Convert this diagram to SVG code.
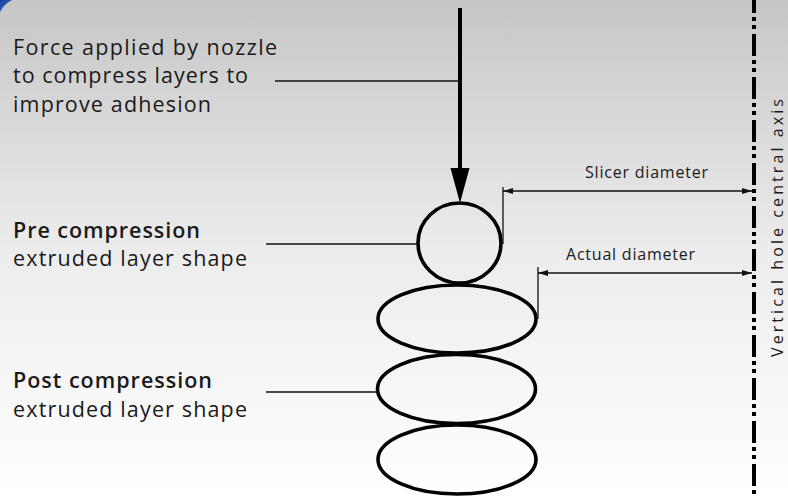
<svg xmlns="http://www.w3.org/2000/svg" width="788" height="497" viewBox="0 0 788 497">
<defs>
<linearGradient id="bg" x1="0" y1="0" x2="0" y2="1">
<stop offset="0" stop-color="#c6c6c6"/>
<stop offset="0.5" stop-color="#ececec"/>
<stop offset="1" stop-color="#ffffff"/>
</linearGradient>
<linearGradient id="blue" x1="0" y1="0" x2="1" y2="1">
<stop offset="0" stop-color="#1a3f9e"/>
<stop offset="1" stop-color="#3a6fd0"/>
</linearGradient>
<marker id="ah" viewBox="0 0 10 6" refX="10" refY="3" markerWidth="10" markerHeight="6" markerUnits="userSpaceOnUse" orient="auto-start-reverse">
<path d="M0,0 L10,3 L0,6 Z" fill="#111"/>
</marker>
</defs>
<style>
.t{font-family:"Open Sans","Liberation Sans",sans-serif;font-size:21.5px;fill:#1a1a1a}
.b{font-weight:600}
.s{font-family:"Open Sans","Liberation Sans",sans-serif;font-size:16px;fill:#1a1a1a}
.shape{fill:none;stroke:#000;stroke-width:3.6}
.lead{fill:none;stroke:#111;stroke-width:1.5}
.dim{fill:none;stroke:#111;stroke-width:1.3}
</style>
<rect x="0" y="0" width="788" height="497" fill="url(#bg)"/>
<path d="M0,0 L12,0 Q4,4 0,12 Z" fill="url(#blue)"/>

<g id="force-label">
<text class="t" x="13" y="55" textLength="264" lengthAdjust="spacing">Force applied by nozzle</text>
<text class="t" x="13" y="83" textLength="235" lengthAdjust="spacing">to compress layers to</text>
<text class="t" x="13" y="112" textLength="198" lengthAdjust="spacing">improve adhesion</text>
</g>
<g id="pre-label">
<text class="t b" x="13" y="238" textLength="187" lengthAdjust="spacing">Pre compression</text>
<text class="t" x="13" y="266" textLength="234" lengthAdjust="spacing">extruded layer shape</text>
</g>
<g id="post-label">
<text class="t b" x="13" y="388" textLength="199" lengthAdjust="spacing">Post compression</text>
<text class="t" x="13" y="417" textLength="234" lengthAdjust="spacing">extruded layer shape</text>
</g>

<g id="pre-circle">
<ellipse class="shape" cx="459.5" cy="243" rx="41.5" ry="40"/>
</g>
<g id="layer1">
<ellipse class="shape" cx="457" cy="319" rx="79" ry="34"/>
</g>
<g id="layer2">
<ellipse class="shape" cx="456.5" cy="389" rx="79" ry="34.5"/>
</g>
<g id="layer3">
<ellipse class="shape" cx="457" cy="459.5" rx="79" ry="34.5"/>
</g>

<g id="axis">
<line x1="754" y1="-9" x2="754" y2="497" stroke="#000" stroke-width="4" stroke-dasharray="22 4 4 4 4 5"/>
<text class="s" transform="translate(783,228) rotate(-90)" text-anchor="middle" textLength="258" lengthAdjust="spacing">Vertical hole central axis</text>
</g>

<g id="slicer-dim">
<text class="s" x="585" y="178" textLength="123" lengthAdjust="spacing">Slicer diameter</text>
</g>
<g id="actual-dim">
<text class="s" x="566" y="260" textLength="129" lengthAdjust="spacing">Actual diameter</text>
</g>

<g id="connectors">
<line x1="460" y1="8" x2="460" y2="168" stroke="#000" stroke-width="4"/>
<path d="M450.5,168 L469.5,168 L460,203 Z" fill="#000"/>
<line class="lead" x1="275" y1="81" x2="459" y2="81"/>
<line class="lead" x1="266" y1="244" x2="418" y2="244"/>
<line class="lead" x1="266" y1="392" x2="378" y2="392"/>
<line class="dim" x1="503" y1="187" x2="503" y2="244"/>
<line class="dim" x1="503" y1="191" x2="752" y2="191" marker-start="url(#ah)" marker-end="url(#ah)"/>
<line class="dim" x1="538" y1="267" x2="538" y2="319"/>
<line class="dim" x1="538" y1="273" x2="752" y2="273" marker-start="url(#ah)" marker-end="url(#ah)"/>
</g>
</svg>
